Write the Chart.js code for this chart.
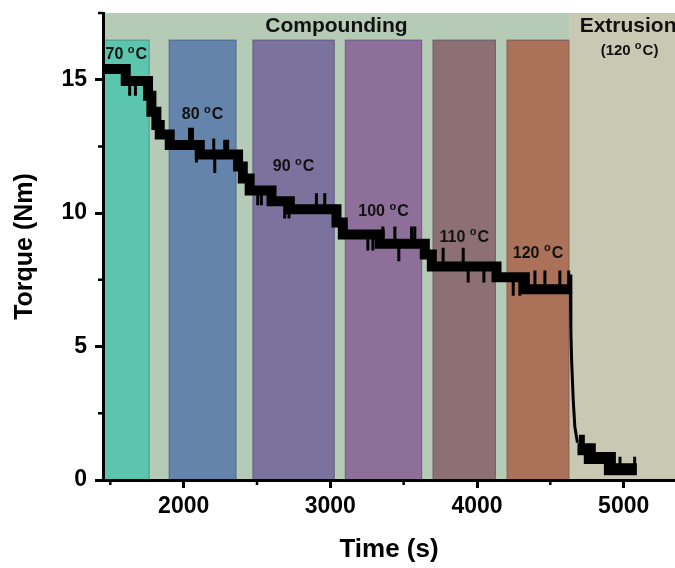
<!DOCTYPE html>
<html>
<head>
<meta charset="utf-8">
<script src="https://cdn.jsdelivr.net/npm/chart.js@4.4.0/dist/chart.umd.min.js"></script>
<style>
  html, body { margin: 0; padding: 0; background: #fff; }
  canvas { display: block; }
</style>
</head>
<body>
<canvas id="torqueChart" width="675" height="568"></canvas>
<script>
const FONT = '"Liberation Sans", Arial, sans-serif';

// stepped torque during compounding (start time of each level, s / Nm)
const stepTimes  = [1450, 1605, 1757, 1780, 1814, 1837, 1905, 2110, 2371, 2403, 2450, 2599, 2724, 3042, 3085, 3337, 3644, 3692, 4133, 4326, 4636];
const stepTorque = [15.4, 14.95, 14.4, 13.8, 13.3, 12.95, 12.55, 12.2, 11.75, 11.3, 10.85, 10.45, 10.15, 9.65, 9.2, 8.85, 8.45, 8.0, 7.6, 7.15, 7.15];

// drop when extrusion starts
const dropTimes  = [4636, 4640, 4645, 4656, 4667, 4685];
const dropTorque = [7.7, 5.6, 4.5, 3.0, 2.0, 1.4];

// extrusion tail
const tailTimes  = [4685, 4769, 4906, 5090];
const tailTorque = [1.15, 0.82, 0.4, 0.4];

// single-reading spikes (time, tip torque)
const spikeTimes = [1632, 1671, 2040, 2060, 2087, 2205, 2212, 2280, 2300, 2505, 2530, 2689, 2718, 2905, 2962,
                    3256, 3290, 3358, 3440, 3467, 3554, 3576, 3769, 3906, 3940, 4047, 4247, 4292,
                    4395, 4463, 4565, 4625, 4705, 4725, 4884, 4975, 5075];
const spikeTips  = [14.4, 14.4, 13.2, 13.2, 11.9, 12.8, 11.5, 12.75, 12.75, 10.3, 10.3, 9.8, 9.8, 10.75, 10.75,
                    8.6, 8.6, 9.5, 9.5, 8.2, 9.5, 9.5, 8.7, 8.7, 7.4, 7.4, 6.9, 6.9,
                    7.85, 7.85, 7.85, 7.85, 1.7, 1.7, 0.2, 0.87, 0.87];

// temperature zones
const zoneStart  = [1450, 1898, 2469, 3099, 3697, 4202];
const zoneEnd    = [1768, 2360, 3030, 3626, 4129, 4630];
const zoneTop    = 16.5;
const zoneTemps  = ['70', '80', '90', '100', '110', '120'];
const zoneLabelY = [15.95, 13.7, 11.75, 10.05, 9.1, 8.5];
const zoneColors = ['#5cc5ad', '#6484ab', '#7b729d', '#8e6f9a', '#8d7074', '#ac7259'];

const compoundRange = [1450, 4633];
const extrusionRange = [4633, 5350];

const xTicks = [1500, 2000, 2500, 3000, 3500, 4000, 4500, 5000];
const yTicks = [0, 2.5, 5, 7.5, 10, 12.5, 15, 17.5];

function levelAt(t, times, levels) {
    let v = levels[0];
    for (let i = 0; i < times.length; i++) {
        if (times[i] <= t) v = levels[i];
    }
    return v;
}

const bandPoints = stepTimes.map((t, i) => ({ x: t, y: stepTorque[i] }));
const dropPoints = dropTimes.map((t, i) => ({ x: t, y: dropTorque[i] }));
const tailPoints = tailTimes.map((t, i) => ({ x: t, y: tailTorque[i] }));
const spikePoints = [];
spikeTimes.forEach((t, i) => {
    const base = t > dropTimes[0] ? levelAt(t, tailTimes, tailTorque) : levelAt(t, stepTimes, stepTorque);
    spikePoints.push({ x: t, y: base }, { x: t, y: spikeTips[i] }, { x: t, y: null });
});

function drawDegreeLabel(ctx, num, cx, cy, size, suffix) {
    const big = `bold ${size}px ${FONT}`;
    const small = `bold ${Math.round(size * 0.7)}px ${FONT}`;
    const tail = 'C' + (suffix || '');
    ctx.font = big;
    const w1 = ctx.measureText(num + ' ').width;
    const w3 = ctx.measureText(tail).width;
    ctx.font = small;
    const w2 = ctx.measureText('o').width + 1;
    let x = cx - (w1 + w2 + w3) / 2;
    ctx.textAlign = 'left';
    ctx.textBaseline = 'middle';
    ctx.font = big;
    ctx.fillText(num + ' ', x, cy);
    x += w1;
    ctx.font = small;
    ctx.fillText('o', x, cy - size * 0.3);
    x += w2;
    ctx.font = big;
    ctx.fillText(tail, x, cy);
}

const zonesPlugin = {
    id: 'zones',
    beforeDraw(chart) {
        const { ctx, chartArea, scales: { x, y } } = chart;
        ctx.save();
        ctx.beginPath();
        ctx.rect(chartArea.left, chartArea.top, chartArea.right - chartArea.left, chartArea.bottom - chartArea.top);
        ctx.clip();
        ctx.fillStyle = '#b5cbb5';
        ctx.fillRect(x.getPixelForValue(compoundRange[0]), chartArea.top,
            x.getPixelForValue(compoundRange[1]) - x.getPixelForValue(compoundRange[0]), chartArea.bottom - chartArea.top);
        ctx.fillStyle = '#c9c9b3';
        ctx.fillRect(x.getPixelForValue(extrusionRange[0]), chartArea.top,
            x.getPixelForValue(extrusionRange[1]) - x.getPixelForValue(extrusionRange[0]) + 2, chartArea.bottom - chartArea.top);
        zoneStart.forEach((s, i) => {
            const x0 = x.getPixelForValue(s);
            const x1 = x.getPixelForValue(zoneEnd[i]);
            const y0 = y.getPixelForValue(zoneTop);
            const y1 = y.getPixelForValue(0);
            ctx.fillStyle = zoneColors[i];
            ctx.fillRect(x0, y0, x1 - x0, y1 - y0);
            ctx.strokeStyle = 'rgba(50,70,90,0.35)';
            ctx.lineWidth = 1;
            ctx.strokeRect(x0 + 0.5, y0 + 0.5, x1 - x0 - 1, y1 - y0);
        });
        ctx.restore();
    },
    afterDatasetsDraw(chart) {
        const { ctx, scales: { x, y } } = chart;
        ctx.save();
        ctx.fillStyle = '#111';
        zoneTemps.forEach((t, i) => {
            const cx = x.getPixelForValue((zoneStart[i] + zoneEnd[i]) / 2);
            drawDegreeLabel(ctx, t, cx, y.getPixelForValue(zoneLabelY[i]), 16);
        });
        ctx.textAlign = 'center';
        ctx.textBaseline = 'middle';
        ctx.font = `bold 21px ${FONT}`;
        ctx.fillText('Compounding', x.getPixelForValue((compoundRange[0] + compoundRange[1]) / 2), y.getPixelForValue(17.0));
        ctx.fillText('Extrusion', x.getPixelForValue(5030), y.getPixelForValue(17.0));
        drawDegreeLabel(ctx, '(120', x.getPixelForValue(5040), y.getPixelForValue(16.1), 15, ')');
        ctx.restore();
    },
    afterDraw(chart) {
        // short minor ticks
        const { ctx, chartArea, scales: { x, y } } = chart;
        ctx.save();
        ctx.strokeStyle = '#000';
        ctx.lineWidth = 2.5;
        ctx.beginPath();
        xTicks.filter(v => v % 1000 !== 0).forEach(v => {
            const px = x.getPixelForValue(v);
            ctx.moveTo(px, chartArea.bottom);
            ctx.lineTo(px, chartArea.bottom + 5);
        });
        yTicks.filter(v => v % 5 !== 0).forEach(v => {
            const py = y.getPixelForValue(v);
            ctx.moveTo(chartArea.left, py);
            ctx.lineTo(chartArea.left - 5, py);
        });
        ctx.stroke();
        ctx.restore();
    }
};

new Chart(document.getElementById('torqueChart'), {
    type: 'line',
    data: {
        datasets: [
            { data: bandPoints, stepped: true, borderColor: '#000', borderWidth: 10, pointRadius: 0, borderJoinStyle: 'miter', borderCapStyle: 'butt' },
            { data: dropPoints, borderColor: '#000', borderWidth: 3, pointRadius: 0, tension: 0 },
            { data: tailPoints, stepped: true, borderColor: '#000', borderWidth: 12, pointRadius: 0, borderJoinStyle: 'miter', borderCapStyle: 'butt' },
            { data: spikePoints, borderColor: '#000', borderWidth: 3, pointRadius: 0, spanGaps: false, borderCapStyle: 'butt' }
        ]
    },
    options: {
        responsive: false,
        animation: false,
        layout: { padding: { top: 13, right: 0, left: 0, bottom: 0 } },
        plugins: { legend: { display: false }, tooltip: { enabled: false } },
        scales: {
            x: {
                type: 'linear',
                min: 1450,
                max: 5350,
                afterBuildTicks: s => { s.ticks = xTicks.map(v => ({ value: v })); },
                afterFit: s => { s.height = 88; s.paddingLeft = 0; s.paddingRight = 0; },
                border: { color: '#000', width: 3 },
                grid: {
                    drawOnChartArea: false,
                    tickLength: 8,
                    tickWidth: 3,
                    tickColor: c => (c.tick && c.tick.value % 1000 === 0) ? '#000' : 'rgba(0,0,0,0)'
                },
                ticks: {
                    autoSkip: false,
                    maxRotation: 0,
                    padding: 5,
                    color: '#000',
                    font: { family: FONT, size: 23, weight: 'bold' },
                    callback: v => v % 1000 === 0 ? String(v) : ''
                },
                title: {
                    display: true,
                    text: 'Time (s)',
                    color: '#000',
                    font: { family: FONT, size: 26, weight: 'bold' },
                    padding: { top: 0, bottom: 3 }
                }
            },
            y: {
                min: 0,
                max: 17.5,
                afterBuildTicks: s => { s.ticks = yTicks.map(v => ({ value: v })); },
                afterFit: s => { s.width = 103; s.paddingTop = 0; s.paddingBottom = 0; },
                border: { color: '#000', width: 3 },
                grid: {
                    drawOnChartArea: false,
                    tickLength: 8,
                    tickWidth: 3,
                    tickColor: c => (c.tick && c.tick.value % 5 === 0) ? '#000' : 'rgba(0,0,0,0)'
                },
                ticks: {
                    autoSkip: false,
                    padding: 8,
                    color: '#000',
                    font: { family: FONT, size: 23, weight: 'bold' },
                    callback: v => v % 5 === 0 ? String(v) : ''
                },
                title: {
                    display: true,
                    text: 'Torque (Nm)',
                    color: '#000',
                    font: { family: FONT, size: 25, weight: 'bold' },
                    padding: { top: 10, bottom: 0 }
                }
            }
        }
    },
    plugins: [zonesPlugin]
});
</script>
</body>
</html>
